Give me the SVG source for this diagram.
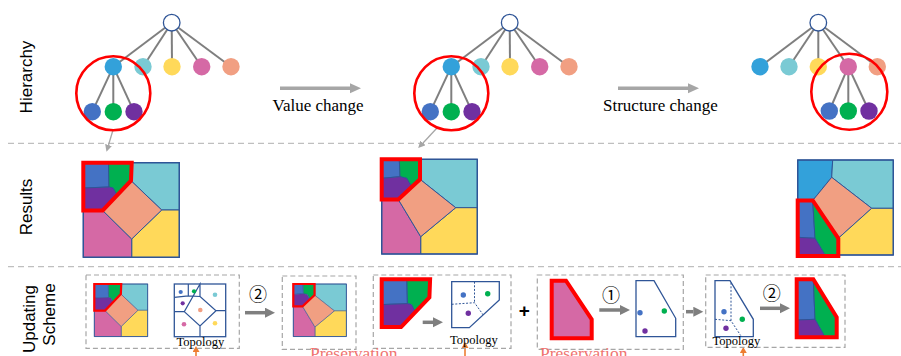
<svg xmlns="http://www.w3.org/2000/svg" xmlns:xlink="http://www.w3.org/1999/xlink" width="901" height="356" viewBox="0 0 901 356">
<style>
.sep{stroke:#BFBFBF;stroke-width:1.2;stroke-dasharray:6 4;fill:none}
.box{fill:none;stroke:#A6A6A6;stroke-width:1.2;stroke-dasharray:5 3}
.edge{stroke:#7F7F7F;stroke-width:2}
.lbl{font-family:"Liberation Sans",Arial,sans-serif;font-size:17px;fill:#000}
.serif{font-family:"Liberation Serif","Times New Roman",serif;fill:#000}
.num{font-family:"Noto Sans CJK SC","DejaVu Sans",sans-serif;font-size:18px;fill:#000}
.cell{stroke:#2F5597;stroke-width:1}
.red{fill:none;stroke:#FF0000;stroke-width:4}
.ring{fill:none;stroke:#FF0000;stroke-width:2.6}
.topo{fill:#fff;stroke:#2F5597;stroke-width:1.3}
.dash{fill:none;stroke:#2F5597;stroke-width:1;stroke-dasharray:2 1.6}
.frame{fill:none;stroke:#2F5597;stroke-width:1.4}
.arr-big{stroke:#A6A6A6;stroke-width:3.5}
.arr{stroke:#7F7F7F;stroke-width:3.5}
.arr-thin{stroke:#A6A6A6;stroke-width:1.3}
.arr-or{stroke:#ED7D31;stroke-width:1.6}
.pres{font-family:"Liberation Serif","Times New Roman",serif;font-size:17.5px;fill:#F07470}
.c-lb{fill:#33A1DA}.c-cy{fill:#7ACAD4}.c-ye{fill:#FFD95A}.c-pk{fill:#D569A5}.c-sa{fill:#F19F82}
.c-bl{fill:#4472C4}.c-gr{fill:#00B050}.c-pu{fill:#7030A0}
</style>
<defs>
<marker id="hBig" markerUnits="userSpaceOnUse" markerWidth="12" markerHeight="11" refX="0" refY="5" orient="auto"><path d="M0,0 L11,5 L0,10 Z" fill="#A6A6A6"/></marker>
<marker id="hGray" markerUnits="userSpaceOnUse" markerWidth="11" markerHeight="11" refX="0" refY="5" orient="auto"><path d="M0,0 L10,5 L0,10 Z" fill="#7F7F7F"/></marker>
<marker id="hThin" markerUnits="userSpaceOnUse" markerWidth="8" markerHeight="8" refX="0" refY="3.5" orient="auto"><path d="M0,0 L7,3.5 L0,7 Z" fill="#A6A6A6"/></marker>
<marker id="hOr" markerUnits="userSpaceOnUse" markerWidth="8" markerHeight="8" refX="0" refY="3.5" orient="auto"><path d="M0,0 L6,3.5 L0,7 Z" fill="#ED7D31"/></marker>
<g id="map1">
<path class="cell c-cy" d="M131.7,162.7 H179.3 V210 H161.7 L131,180.7 Z"/>
<path class="cell c-ye" d="M161.7,210 H179.3 V257.3 H131.7 V239 Z"/>
<path class="cell c-pk" d="M83.3,210.5 H102.7 L131.7,239 V257.3 H83.3 Z"/>
<path class="cell c-sa" d="M131,180.7 L161.7,210 L131.7,239 L102.7,210.5 Z"/>
<path class="cell c-bl" d="M83.3,162.7 H108.5 L109,187 L83.3,188 Z"/>
<path class="cell c-gr" d="M108.5,162.7 H131.7 L131,180.7 L117,195.4 L113,188 L109,187 Z"/>
<path class="cell c-pu" d="M83.3,188 L109,187 L113,188 L117,195.4 L102.7,210.5 H83.3 Z"/>
<rect class="frame" x="83.3" y="162.7" width="96" height="94.6"/>
</g>
<g id="map2">
<path class="cell c-cy" d="M420,159.3 H477.3 V207.7 H455.7 L420,179.3 Z"/>
<path class="cell c-ye" d="M455.7,207.7 H477.3 V254 H420.7 V236.7 Z"/>
<path class="cell c-pk" d="M381.7,199.5 H398.3 L420.7,236.7 V254 H381.7 Z"/>
<path class="cell c-sa" d="M420,179.3 L455.7,207.7 L420.7,236.7 L398.3,199.5 Z"/>
<path class="cell c-bl" d="M381.7,159.3 H399.3 L400,176.7 L381.7,178.3 Z"/>
<path class="cell c-gr" d="M399.3,159.3 H420 V179.3 L411.7,187 L406.7,178.3 L400,176.7 Z"/>
<path class="cell c-pu" d="M381.7,178.3 L400,176.7 L406.7,178.3 L411.7,187 L398.3,199.5 H381.7 Z"/>
<rect class="frame" x="381.7" y="159.3" width="95.6" height="94.7"/>
</g>
</defs>

<!-- separators -->
<line class="sep" x1="8" y1="143.3" x2="901" y2="143.3"/>
<line class="sep" x1="8" y1="266.7" x2="901" y2="266.7"/>

<!-- row labels -->
<text class="lbl" text-anchor="middle" transform="translate(32,77) rotate(-90)">Hierarchy</text>
<text class="lbl" text-anchor="middle" transform="translate(32,207) rotate(-90)">Results</text>
<text class="lbl" text-anchor="middle" transform="translate(34.5,319) rotate(-90)">Updating</text>
<text class="lbl" text-anchor="middle" transform="translate(55,314.5) rotate(-90)">Scheme</text>

<!-- connectors -->
<g id="connectors">
<g id="tree1-edges">
<line class="edge" x1="171.7" y1="22.7" x2="113.3" y2="66.7"/>
<line class="edge" x1="171.7" y1="22.7" x2="143" y2="66.7"/>
<line class="edge" x1="171.7" y1="22.7" x2="172" y2="66.7"/>
<line class="edge" x1="171.7" y1="22.7" x2="201.7" y2="66.7"/>
<line class="edge" x1="171.7" y1="22.7" x2="231" y2="66.7"/>
<line class="edge" x1="113.3" y1="66.7" x2="92.3" y2="111.7"/>
<line class="edge" x1="113.3" y1="66.7" x2="113.3" y2="111.7"/>
<line class="edge" x1="113.3" y1="66.7" x2="134" y2="111.7"/>
</g>
<g id="tree2-edges">
<line class="edge" x1="509.7" y1="22.7" x2="451.3" y2="66.7"/>
<line class="edge" x1="509.7" y1="22.7" x2="481" y2="66.7"/>
<line class="edge" x1="509.7" y1="22.7" x2="510" y2="66.7"/>
<line class="edge" x1="509.7" y1="22.7" x2="539.7" y2="66.7"/>
<line class="edge" x1="509.7" y1="22.7" x2="569" y2="66.7"/>
<line class="edge" x1="451.3" y1="66.7" x2="430.3" y2="111.7"/>
<line class="edge" x1="451.3" y1="66.7" x2="451.3" y2="111.7"/>
<line class="edge" x1="451.3" y1="66.7" x2="472" y2="111.7"/>
</g>
<g id="tree3-edges">
<line class="edge" x1="818.3" y1="22.7" x2="760" y2="66.7"/>
<line class="edge" x1="818.3" y1="22.7" x2="789" y2="66.7"/>
<line class="edge" x1="818.3" y1="22.7" x2="818.3" y2="66.7"/>
<line class="edge" x1="818.3" y1="22.7" x2="848.3" y2="66.7"/>
<line class="edge" x1="818.3" y1="22.7" x2="877.3" y2="66.7"/>
<line class="edge" x1="848.3" y1="66.7" x2="829.3" y2="111"/>
<line class="edge" x1="848.3" y1="66.7" x2="848.3" y2="111"/>
<line class="edge" x1="848.3" y1="66.7" x2="869" y2="111"/>
</g>
<line class="arr-big" x1="280" y1="88.3" x2="350" y2="88.3" marker-end="url(#hBig)"/>
<line class="arr-big" x1="618" y1="88.3" x2="688" y2="88.3" marker-end="url(#hBig)"/>
<line class="arr-thin" x1="113" y1="130" x2="108.5" y2="145" marker-end="url(#hThin)"/>
<line class="arr-thin" x1="437" y1="128" x2="423" y2="143" marker-end="url(#hThin)"/>
<line class="arr" x1="245" y1="312.7" x2="265" y2="312.7" marker-end="url(#hGray)"/>
<line class="arr" x1="422.7" y1="322.3" x2="433" y2="322.3" marker-end="url(#hGray)"/>
<line class="arr" x1="599.3" y1="310" x2="620" y2="310" marker-end="url(#hGray)"/>
<line class="arr" x1="686" y1="311.7" x2="693.3" y2="311.7" marker-end="url(#hGray)"/>
<line class="arr" x1="760" y1="308.3" x2="780" y2="308.3" marker-end="url(#hGray)"/>
<line class="arr-or" x1="196" y1="357" x2="196" y2="352" marker-end="url(#hOr)"/>
<line class="arr-or" x1="465" y1="357" x2="465" y2="348" marker-end="url(#hOr)"/>
<line class="arr-or" x1="743.3" y1="357" x2="743.3" y2="353" marker-end="url(#hOr)"/>
</g>

<!-- tree 1 nodes -->
<g id="tree1">
<g id="t1-root"><circle cx="171.7" cy="22.7" r="8.3" fill="#fff" stroke="#2F5597" stroke-width="1.3"/></g>
<g id="t1-a"><circle class="c-lb" cx="113.3" cy="66.7" r="8.7"/></g>
<g id="t1-b"><circle class="c-cy" cx="143" cy="66.7" r="8.7"/></g>
<g id="t1-c"><circle class="c-ye" cx="172" cy="66.7" r="8.7"/></g>
<g id="t1-d"><circle class="c-pk" cx="201.7" cy="66.7" r="8.7"/></g>
<g id="t1-e"><circle class="c-sa" cx="231" cy="66.7" r="8.7"/></g>
<g id="t1-a1"><circle class="c-bl" cx="92.3" cy="111.7" r="8.7"/></g>
<g id="t1-a2"><circle class="c-gr" cx="113.3" cy="111.7" r="8.7"/></g>
<g id="t1-a3"><circle class="c-pu" cx="134" cy="111.7" r="8.7"/></g>
<circle class="ring" cx="113.3" cy="93.3" r="37"/>
</g>
<text class="serif" x="272.5" y="111" font-size="17">Value change</text>

<!-- tree 2 nodes -->
<g id="tree2">
<g id="t2-root"><circle cx="509.7" cy="22.7" r="8.3" fill="#fff" stroke="#2F5597" stroke-width="1.3"/></g>
<g id="t2-a"><circle class="c-lb" cx="451.3" cy="66.7" r="8.7"/></g>
<g id="t2-b"><circle class="c-cy" cx="481" cy="66.7" r="8.7"/></g>
<g id="t2-c"><circle class="c-ye" cx="510" cy="66.7" r="8.7"/></g>
<g id="t2-d"><circle class="c-pk" cx="539.7" cy="66.7" r="8.7"/></g>
<g id="t2-e"><circle class="c-sa" cx="569" cy="66.7" r="8.7"/></g>
<g id="t2-a1"><circle class="c-bl" cx="430.3" cy="111.7" r="8.7"/></g>
<g id="t2-a2"><circle class="c-gr" cx="451.3" cy="111.7" r="8.7"/></g>
<g id="t2-a3"><circle class="c-pu" cx="472" cy="111.7" r="8.7"/></g>
<circle class="ring" cx="451.3" cy="93.3" r="37"/>
</g>
<text class="serif" x="603" y="111" font-size="17">Structure change</text>

<!-- tree 3 nodes -->
<g id="tree3">
<g id="t3-root"><circle cx="818.3" cy="22.7" r="8.3" fill="#fff" stroke="#2F5597" stroke-width="1.3"/></g>
<g id="t3-a"><circle class="c-lb" cx="760" cy="66.7" r="8.7"/></g>
<g id="t3-b"><circle class="c-cy" cx="789" cy="66.7" r="8.7"/></g>
<g id="t3-c"><circle class="c-ye" cx="818.3" cy="66.7" r="8.7"/></g>
<g id="t3-d"><circle class="c-pk" cx="848.3" cy="66.7" r="8.7"/></g>
<g id="t3-e"><circle class="c-sa" cx="877.3" cy="66.7" r="8.7"/></g>
<g id="t3-d1"><circle class="c-bl" cx="829.3" cy="111" r="8.7"/></g>
<g id="t3-d2"><circle class="c-gr" cx="848.3" cy="111" r="8.7"/></g>
<g id="t3-d3"><circle class="c-pu" cx="869" cy="111" r="8.7"/></g>
<circle class="ring" cx="849.3" cy="91.7" r="38"/>
</g>

<!-- results -->
<g id="result1">
<use xlink:href="#map1" href="#map1"/>
<path class="red" d="M83.3,162.7 H131.7 L131,180.7 L102.7,210.5 H83.3 Z"/>
</g>
<g id="result2">
<use xlink:href="#map2" href="#map2"/>
<path class="red" d="M381.7,159.3 H420 V179.3 L398.3,199.5 H381.7 Z"/>
</g>
<g id="result3">
<path class="cell c-lb" d="M797.7,160 H832.7 L831.7,177.3 L812.7,200.5 H797.7 Z"/>
<path class="cell c-cy" d="M832.7,160 H893.3 V208.3 H871.7 L831.7,177.3 Z"/>
<path class="cell c-sa" d="M831.7,177.3 L871.7,208.3 L838.3,238.3 L812.7,200.5 Z"/>
<path class="cell c-ye" d="M871.7,208.3 H893.3 V255 H838.3 V238.3 Z"/>
<path class="cell c-bl" d="M797.7,200.5 H812.7 L815,238.3 L797.7,237.3 Z"/>
<path class="cell c-gr" d="M812.7,200.5 L838.3,238.3 V255 H825 L815,238.3 Z"/>
<path class="cell c-pu" d="M797.7,237.3 L815,238.3 L825,255 H797.7 Z"/>
<rect class="frame" x="797.7" y="160" width="95.6" height="95"/>
<path class="red" d="M797.7,200.5 H812.7 L838.3,238.3 V256 H797.7 Z"/>
</g>

<!-- updating scheme -->
<g id="boxA">
<rect class="box" x="86" y="275" width="153.3" height="73.3"/>
<g transform="translate(94.3,284) scale(0.556) translate(-83.3,-162.7)">
<use xlink:href="#map1" href="#map1"/>
<path class="red" stroke-width="6" d="M83.3,162.7 H131.7 L131,180.7 L102.7,210.5 H83.3 Z"/>
</g>
<g id="topoA">
<rect class="topo" x="174.3" y="284" width="51.4" height="52.7"/>
<path fill="none" stroke="#2F5597" stroke-width="1.2" d="M188.3,284 V295.8 M174.3,297.3 L188.3,295.8 L200,296.5 M200,284 V296.5 L216,310.7 L200,326 L184.3,311.7 Z M216,310.7 H225.7 M200,326 V336.7 M174.3,311.7 H184.3"/>
<circle class="c-bl" cx="180.7" cy="292" r="2.1"/>
<circle class="c-gr" cx="194" cy="291.3" r="2.1"/>
<circle class="c-cy" cx="215" cy="294.7" r="2.3"/>
<circle class="c-pu" cx="182.7" cy="303.3" r="2.1"/>
<circle class="c-sa" cx="200.3" cy="310" r="2.3"/>
<circle class="c-pk" cx="184" cy="324.3" r="2.3"/>
<circle class="c-ye" cx="215" cy="323.3" r="2.3"/>
</g>
<text class="serif" x="176.5" y="346" font-size="12.5">Topology</text>
</g>
<text class="num" x="258" y="301" text-anchor="middle">②</text>

<g id="boxB">
<rect class="box" x="282.3" y="276" width="73.7" height="73.3"/>
<g transform="translate(293.3,284) scale(0.555) translate(-381.7,-159.3)">
<use xlink:href="#map2" href="#map2"/>
<path class="red" stroke-width="6" d="M381.7,159.3 H420 V179.3 L398.3,199.5 H381.7 Z"/>
</g>
</g>

<g id="boxC">
<rect class="box" x="373.3" y="275" width="137.7" height="73.3"/>
<g transform="translate(298.4,116.6)">
<path class="cell c-bl" d="M83.3,162.7 H108.5 L109,187 L83.3,188 Z"/>
<path class="cell c-gr" d="M108.5,162.7 H131.7 L131,180.7 L117,195.4 L113,188 L109,187 Z"/>
<path class="cell c-pu" d="M83.3,188 L109,187 L113,188 L117,195.4 L102.7,210.5 H83.3 Z"/>
<path class="red" d="M83.3,162.7 H131.7 L131,180.7 L102.7,210.5 H83.3 Z"/>
</g>
<path class="topo" d="M451.7,281.7 H499.3 V300 L469.3,327.7 H451.7 Z"/>
<path class="dash" d="M474.5,281.7 V302.7 M451.7,304.3 L474.5,302.7 L484,316"/>
<circle class="c-bl" cx="463.3" cy="295" r="2.7"/>
<circle class="c-gr" cx="487.7" cy="293.7" r="2.7"/>
<circle class="c-pu" cx="468.3" cy="313.3" r="2.7"/>
<text class="serif" x="450" y="344.3" font-size="12.5">Topology</text>
</g>
<text x="524.3" y="317" text-anchor="middle" font-family="'Liberation Sans',Arial,sans-serif" font-size="19" font-weight="bold">+</text>

<g id="boxD">
<rect class="box" x="537.3" y="275" width="146" height="74.3"/>
<path class="c-pk" d="M551.7,280.7 H566 L591.7,319.3 V338.3 H551.7 Z"/>
<path class="red" d="M551.7,280.7 H566 L591.7,319.3 V338.3 H551.7 Z"/>
<path class="topo" d="M636,280.7 H654 L675.7,318.3 V336.7 H636 Z"/>
<circle class="c-bl" cx="640" cy="312.7" r="2.7"/>
<circle class="c-gr" cx="664.3" cy="311" r="2.7"/>
<circle class="c-pu" cx="645" cy="331" r="2.7"/>
</g>
<text class="num" x="611" y="301.5" text-anchor="middle">①</text>

<g id="boxE">
<rect class="box" x="705.7" y="275" width="139.3" height="72.3"/>
<path class="topo" d="M715,280.7 H730 L753.3,319.3 V336.7 H715 Z"/>
<path class="dash" d="M731,282.7 V320.7 M715,319.3 L731,320.7 L740.7,335.5"/>
<circle class="c-bl" cx="724" cy="311.7" r="2.7"/>
<circle class="c-gr" cx="742.3" cy="319.3" r="2.7"/>
<circle class="c-pu" cx="726" cy="328.3" r="2.7"/>
<text class="serif" x="712.5" y="345" font-size="12.5">Topology</text>
<path class="cell c-bl" d="M796.7,279.3 H813.3 L815,319.3 L796.7,320 Z"/>
<path class="cell c-gr" d="M813.3,279.3 L836.7,317.3 V337.3 H825 L815,319.3 Z"/>
<path class="cell c-pu" d="M796.7,320 L815,319.3 L825,337.3 H796.7 Z"/>
<path class="red" d="M796.7,279.3 H813.3 L836.7,317.3 V337.3 H796.7 Z"/>
</g>
<text class="num" x="771.7" y="300" text-anchor="middle">②</text>

<text class="pres" x="310" y="358.5">Preservation</text>
<text class="pres" x="540" y="358.5">Preservation</text>
</svg>
